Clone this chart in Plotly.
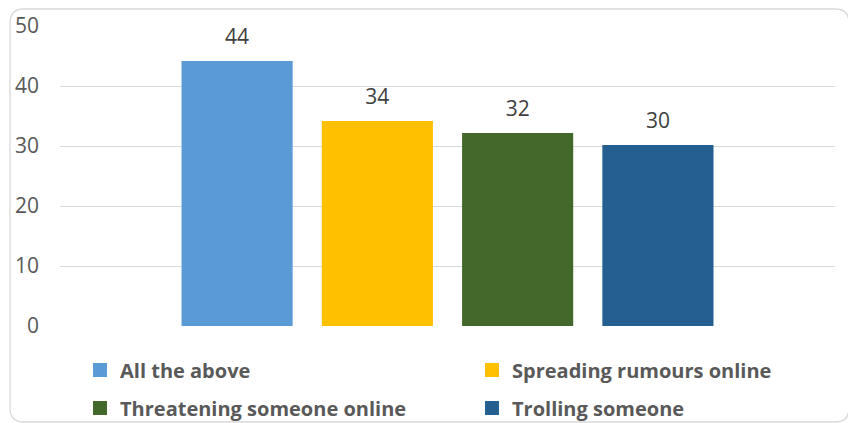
import plotly.graph_objects as go

series = ["All the above", "Spreading rumours online", "Threatening someone online", "Trolling someone"]
values = [44, 34, 32, 30]
colors = ["#5B9BD5", "#FFC000", "#43682B", "#255E91"]
category = [""]
y_ticks = [0, 10, 20, 30, 40, 50]

W, H = 848, 423
L, R, T, B = 60, 13, 26, 97
PW, PH = W - L - R, H - T - B

def px2x(px):
    return (px - L) / PW

def py2y(py):
    return (H - B - py) / PH

BARGAP = 0.276
legend_names = ["legend", "legend2", "legend3", "legend4"]
legend_pos = [(80, 370), (472, 370), (80, 408), (472, 408)]

fig = go.Figure()
for i, (name, v, c) in enumerate(zip(series, values, colors)):
    fig.add_trace(go.Bar(
        x=category, y=[v], name=name, offsetgroup=str(i),
        marker=dict(color=c, line=dict(color=c, width=2)),
        legend=legend_names[i], hoverinfo="skip",
    ))
for i, (name, v) in enumerate(zip(series, values)):
    fig.add_trace(go.Scatter(
        x=category, y=[v], mode="markers+text", text=[str(v)],
        textposition="top center", offsetgroup=str(i),
        marker=dict(size=19, opacity=0), showlegend=False,
        textfont=dict(family="Open Sans", size=21, color="#404040"),
        cliponaxis=False, hoverinfo="skip",
    ))

legend_common = dict(
    orientation="v", xanchor="left", yanchor="middle",
    font=dict(family="Open Sans", size=20, color="#595959", weight=700),
    bgcolor="rgba(0,0,0,0)", borderwidth=0,
)
layout_legends = {}
for nm, (lx, ly) in zip(legend_names, legend_pos):
    layout_legends[nm] = dict(x=px2x(lx), y=py2y(ly), **legend_common)

r = 14
x0, x1, y0, y1 = 10, 849, 9, 422
path = (f"M {px2x(x0)} {py2y(y0 + r)} Q {px2x(x0)} {py2y(y0)} {px2x(x0 + r)} {py2y(y0)} "
        f"L {px2x(x1 - r)} {py2y(y0)} Q {px2x(x1)} {py2y(y0)} {px2x(x1)} {py2y(y0 + r)} "
        f"L {px2x(x1)} {py2y(y1 - r)} Q {px2x(x1)} {py2y(y1)} {px2x(x1 - r)} {py2y(y1)} "
        f"L {px2x(x0 + r)} {py2y(y1)} Q {px2x(x0)} {py2y(y1)} {px2x(x0)} {py2y(y1 - r)} Z")

fig.update_layout(
    width=W, height=H,
    margin=dict(l=L, r=R, t=T, b=B, autoexpand=False),
    paper_bgcolor="white", plot_bgcolor="white",
    barmode="group", bargap=BARGAP, bargroupgap=0.222,
    scattermode="group", scattergap=BARGAP,
    font=dict(family="Open Sans", color="#595959"),
    xaxis=dict(showticklabels=False, showgrid=False, zeroline=False, showline=False, fixedrange=True),
    yaxis=dict(range=[0, 50], tickvals=y_ticks, showgrid=True, gridcolor="#D9D9D9", gridwidth=1.3,
               zeroline=False, showline=False, ticks="", ticklabelstandoff=20,
               tickfont=dict(family="Open Sans", size=21, color="#595959"), fixedrange=True),
    shapes=[dict(type="path", path=path, xref="paper", yref="paper",
                 line=dict(color="#D9D9D9", width=1.3), layer="below")],
    showlegend=True,
    **layout_legends,
)

fig.write_html("out.html")
